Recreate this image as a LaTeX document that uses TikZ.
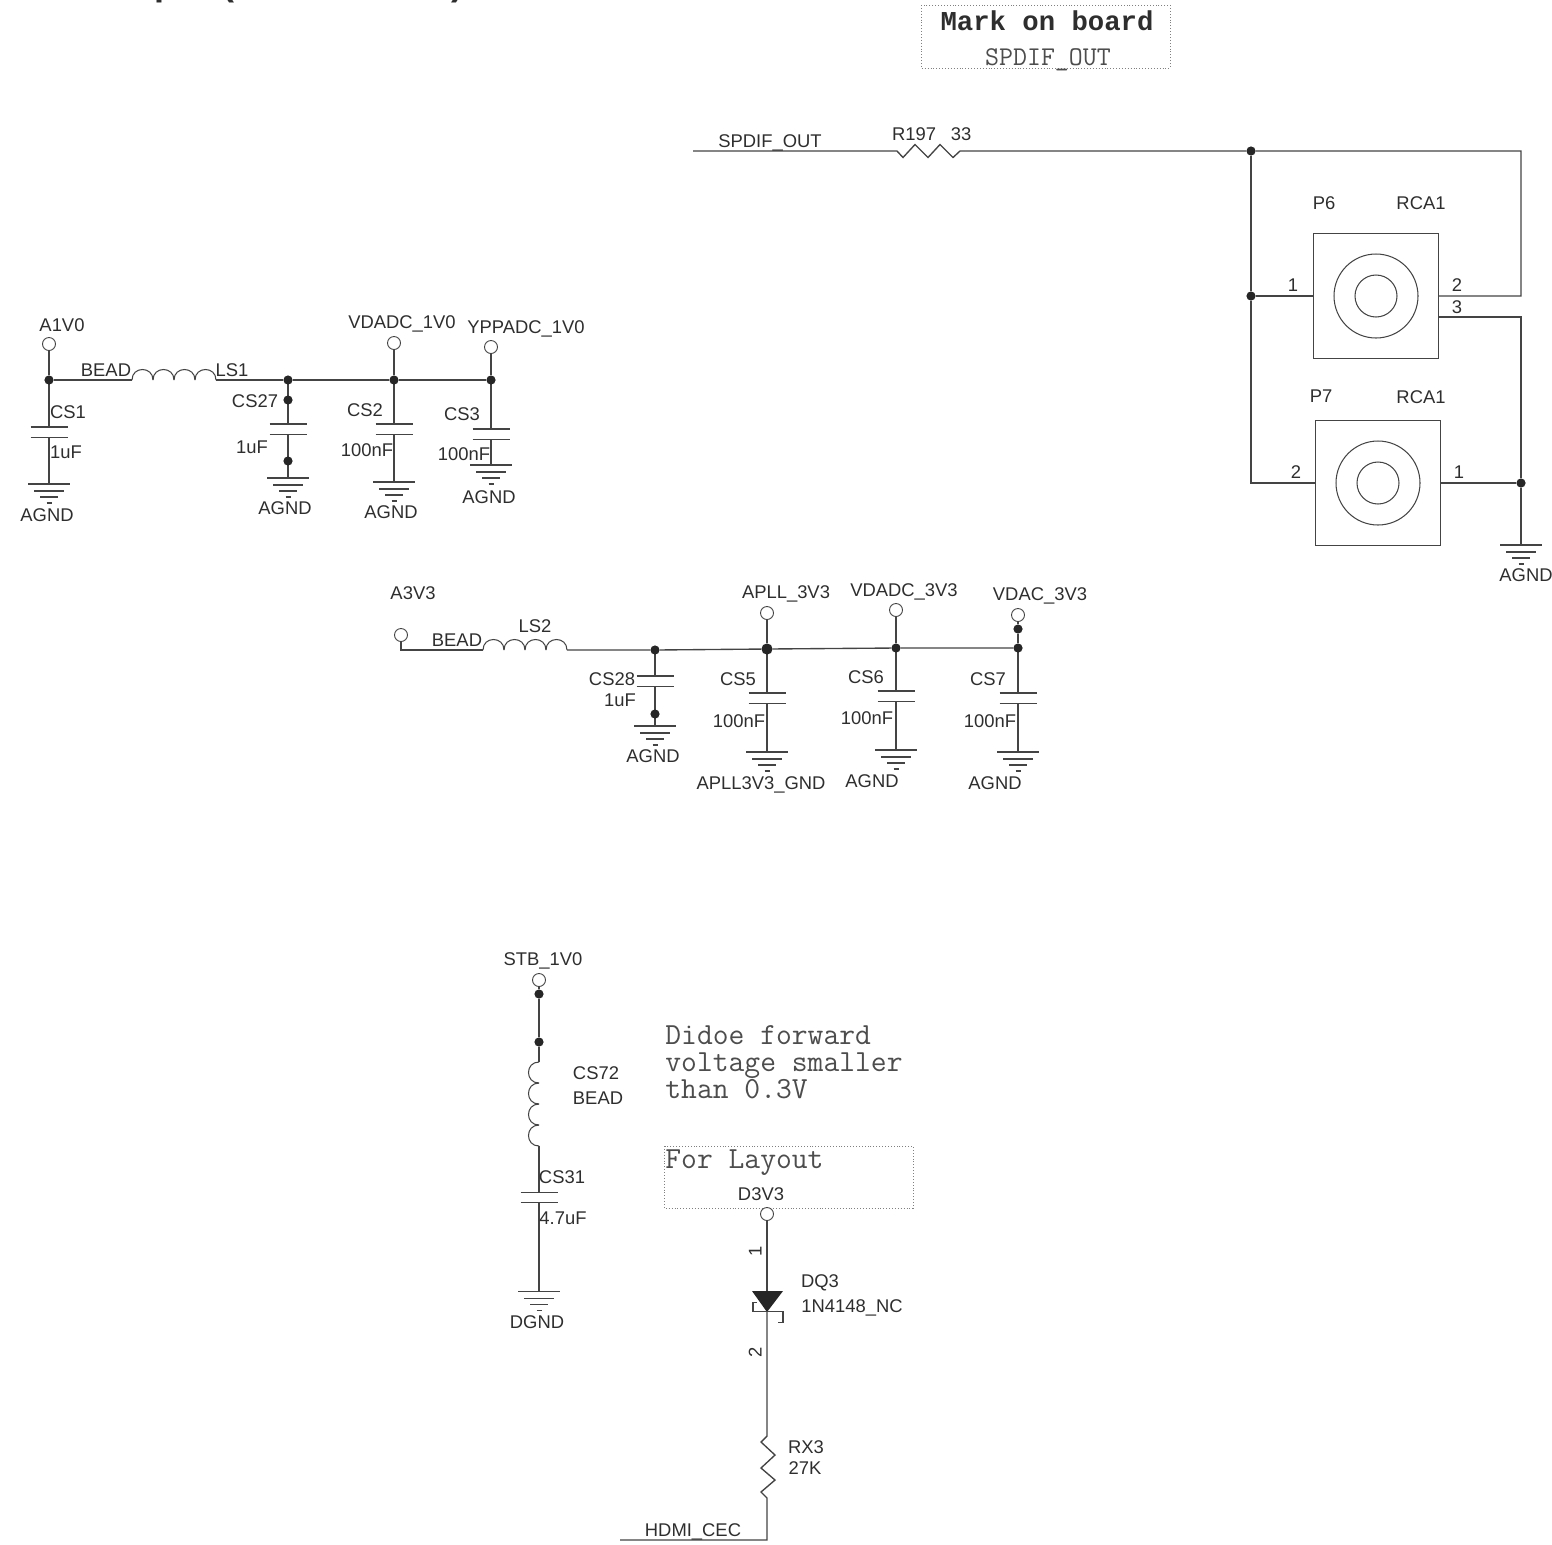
\documentclass[tikz,border=0pt]{standalone}
\usepackage{fontspec}
\setmainfont{Liberation Sans}
\newfontfamily\markfont{Liberation Mono}
\usetikzlibrary{calc}
\definecolor{wirecol}{HTML}{444444}
\definecolor{txtcol}{HTML}{2E2E2E}
\tikzset{
	wire/.style={line width=.68pt, draw=wirecol},
	thinline/.style={line width=.52pt, draw=wirecol},
	lbl/.style={inner sep=0pt, text height=6.6pt, text depth=0pt, text=txtcol, font=\fontsize{9.2}{11}\selectfont},
	monotxt/.style={inner sep=0pt, text=txtcol!85!white, font=\fontsize{15.35}{13.5}\selectfont\ttfamily},
	markbox/.style={line width=.45pt, draw=gray, densely dotted},
	jdot/.style={circle, fill=black!85, draw=none, inner sep=0pt, minimum size=4.6pt},
	testpt/.style={circle, draw=wirecol, fill=white, line width=.45pt, inner sep=0pt, minimum size=6.5pt},
	rcabox/.style={rectangle, draw=wirecol, line width=.52pt, inner sep=0pt, minimum size=62.5pt},
	headtxt/.style={inner sep=0pt, anchor=base, text=txtcol, font=\fontsize{18}{20}\selectfont\bfseries},
	pics/gndsym/.style={code={
		\draw[thinline] (-21,0) -- (21,0) (-15,7) -- (15,7) (-9,13) -- (9,13) (-2.5,19) -- (2.5,19);
	}}
}
\begin{document}
\begin{tikzpicture}[x=.5pt, y=-.5pt]
		\path[use as bounding box, clip] (0,0) rectangle (1552,1544);
		
		% Kopfzeile (abgeschnitten)
		\node[headtxt] (headp) at (165,-4.5) {p};
		\node[headtxt] (headl) at (228,-4.5) {(};
		\node[headtxt] (headr) at (457,-4.5) {)};
		
		% Kondensatoren mit Masse
		\foreach \n/\x/\t/\p/\g in {cs1/49/380/427/484, cs27/288/380/424/478, cs2/394/380/424/482, cs3/491/380/429/465, cs28/655/650/676/726, cs5/767/649/693/752, cs6/896/648/691/750, cs7/1018/648/693/752, cs31/539/1146/1192/1291}
		{
			\coordinate (\n-top) at (\x,\t);
			\coordinate (\n-pa) at (\x,\p);
			\coordinate (\n-pb) at (\x,{\p+10.5});
			\coordinate (\n-gnd) at (\x,\g);
			\draw[wire] (\n-top) -- (\n-pa) (\n-pb) -- (\n-gnd);
			\draw[thinline] ($(\n-pa)+(-18.5,0)$) -- ($(\n-pa)+(18.5,0)$);
			\draw[thinline] ($(\n-pb)+(-18.5,0)$) -- ($(\n-pb)+(18.5,0)$);
			\pic at (\n-gnd) {gndsym};
		}
		
		% A1V0
		\node[testpt] (pa1v0) at (49,344) {};
		\node[jdot] (ja1) at (49,380) {};
		\node[jdot] (ja2) at (288,380) {};
		\node[jdot] (ja3) at (394,380) {};
		\node[jdot] (ja4) at (491,380) {};
		\node[jdot] (ja5) at (288,400) {};
		\node[jdot] (ja6) at (288,461) {};
		\node[testpt] (pvdadc) at (394,343) {};
		\node[testpt] (pyppadc) at (491,347) {};
		\coordinate (ls1a) at (132,380);
		\coordinate (ls1b) at (216,380);
		\draw[wire] (pa1v0) -- (ja1) -- (ls1a);
		\foreach \i in {0,1,2,3}
		\draw[thinline] ({132+21*\i},380) .. controls +(0,-14) and +(0,-14) .. ({153+21*\i},380);
		\draw[wire] (ls1b) -- (ja2) -- (ja3) -- (ja4);
		\draw[wire] (pvdadc) -- (ja3);
		\draw[wire] (pyppadc) -- (ja4);
		
		\node[lbl] (la1v0) at (62,325) {A1V0};
		\node[lbl] (lvdadc) at (402,322) {VDADC\_1V0};
		\node[lbl] (lyppadc) at (526,327) {YPPADC\_1V0};
		\node[lbl] (lbead1) at (106,370) {BEAD};
		\node[lbl] (lls1) at (232,370) {LS1};
		\node[lbl] (lcs1) at (68,412) {CS1};
		\node[lbl] (lcs1v) at (66,452) {1uF};
		\node[lbl] (lagnd1) at (47,515) {AGND};
		\node[lbl] (lcs27) at (255,401) {CS27};
		\node[lbl] (lcs27v) at (252,447) {1uF};
		\node[lbl] (lagnd2) at (285,508) {AGND};
		\node[lbl] (lcs2) at (365,410) {CS2};
		\node[lbl] (lcs2v) at (367,450) {100nF};
		\node[lbl] (lagnd3) at (391,512) {AGND};
		\node[lbl] (lcs3) at (462,414) {CS3};
		\node[lbl] (lcs3v) at (464,454) {100nF};
		\node[lbl] (lagnd4) at (489,497) {AGND};
		
		% A3V3
		\node[testpt] (pa3v3) at (401,635) {};
		\coordinate (ka) at (401,650);
		\coordinate (ls2a) at (483,650);
		\coordinate (ls2b) at (567,650);
		\node[jdot] (jb1) at (655,650) {};
		\node[jdot, minimum size=5.6pt] (jb2) at (767,649) {};
		\node[jdot] (jb3) at (896,648) {};
		\node[jdot] (jb4) at (1018,648) {};
		\node[jdot] (jb5) at (655,714) {};
		\node[jdot] (jb6) at (1018,629) {};
		\node[testpt] (papll) at (767,613) {};
		\node[testpt] (pvdadcb) at (896,610) {};
		\node[testpt] (pvdac) at (1018,615) {};
		\draw[wire] (pa3v3) -- (ka) -- (ls2a);
		\foreach \i in {0,1,2,3}
		\draw[thinline] ({483+21*\i},650) .. controls +(0,-14) and +(0,-14) .. ({504+21*\i},650);
		\draw[wire] (ls2b) -- (jb1) -- (jb2) -- (jb3) -- (jb4);
		\draw[wire] (papll) -- (jb2);
		\draw[wire] (pvdadcb) -- (jb3);
		\draw[wire] (pvdac) -- (jb6) -- (jb4);
		
		\node[lbl] (la3v3) at (413,593) {A3V3};
		\node[lbl] (lbead2) at (457,640) {BEAD};
		\node[lbl] (lls2) at (535,626) {LS2};
		\node[lbl] (lcs28) at (612,679) {CS28};
		\node[lbl] (lcs28v) at (620,700) {1uF};
		\node[lbl] (lagnd5) at (653,756) {AGND};
		\node[lbl] (lapll) at (786,592) {APLL\_3V3};
		\node[lbl] (lcs5) at (738,679) {CS5};
		\node[lbl] (lcs5v) at (739,721) {100nF};
		\node[lbl] (lapllg) at (761,783) {APLL3V3\_GND};
		\node[lbl] (lvdadcb) at (904,590) {VDADC\_3V3};
		\node[lbl] (lcs6) at (866,677) {CS6};
		\node[lbl] (lcs6v) at (867,718) {100nF};
		\node[lbl] (lagnd6) at (872,781) {AGND};
		\node[lbl] (lvdac) at (1040,594) {VDAC\_3V3};
		\node[lbl] (lcs7) at (988,679) {CS7};
		\node[lbl] (lcs7v) at (990,721) {100nF};
		\node[lbl] (lagnd7) at (995,783) {AGND};
		
		% Mark on board
		\draw[markbox] (921,5) rectangle (1170,68);
		\node[monotxt, text=txtcol, font=\fontsize{13.65}{15}\selectfont\markfont\bfseries] (lmark) at (1047,21) {Mark on board};
		\node[monotxt, font=\fontsize{13.55}{15}\selectfont\ttfamily] (lmarkb) at (1048,60) {SPDIF\_OUT};
		
		% SPDIF und RCA
		\coordinate (spd) at (693,151);
		\coordinate (r197a) at (897,151);
		\coordinate (r197b) at (960,151);
		\node[jdot] (jc1) at (1251,151) {};
		\node[jdot] (jc2) at (1251,296) {};
		\node[jdot] (jc3) at (1521,483) {};
		\coordinate (kb) at (1521,151);
		\coordinate (kc) at (1521,296);
		\coordinate (kd) at (1521,317);
		\coordinate (ke) at (1251,483);
		\coordinate (kf) at (1521,545);
		\node[rcabox] (p6) at (1376,296) {};
		\node[rcabox] (p7) at (1378,483) {};
		\coordinate (p6c) at (p6.east |- kd);
		\draw[thinline] (p6) circle (42);
		\draw[thinline] (p6) circle (21);
		\draw[thinline] (p7) circle (42);
		\draw[thinline] (p7) circle (21);
		\draw[wire] (spd) -- (r197a) -- (903,157.5) -- (915,144.5) -- (928,157.5) -- (940,144.5) -- (953,157.5) -- (r197b) -- (jc1) -- (kb) -- (kc) -- (p6.east);
		\draw[wire] (jc1) -- (jc2) -- (ke) -- (p7.west);
		\draw[wire] (jc2) -- (p6.west);
		\draw[wire] (p6c) -- (kd) -- (jc3) -- (kf);
		\draw[wire] (p7.east) -- (jc3);
		\pic at (kf) {gndsym};
		
		\node[lbl] (lspd) at (770,141) {SPDIF\_OUT};
		\node[lbl] (lr197) at (914,134) {R197};
		\node[lbl] (lr197v) at (961,134) {33};
		\node[lbl] (lp6) at (1324,203) {P6};
		\node[lbl] (lrca1) at (1421,203) {RCA1};
		\node[lbl] (lp7) at (1321,396) {P7};
		\node[lbl] (lrca2) at (1421,397) {RCA1};
		\node[lbl] (lp61) at (1293,285) {1};
		\node[lbl] (lp62) at (1457,285) {2};
		\node[lbl] (lp63) at (1457,307) {3};
		\node[lbl] (lp72) at (1296,472) {2};
		\node[lbl] (lp71) at (1459,472) {1};
		\node[lbl] (lagnd8) at (1526,575) {AGND};
		
		% STB_1V0
		\node[testpt] (pstb) at (539,980) {};
		\node[jdot] (jd1) at (539,994) {};
		\node[jdot] (jd2) at (539,1042) {};
		\coordinate (cs72a) at (539,1062);
		\draw[wire] (pstb) -- (jd1) -- (jd2) -- (cs72a);
		\foreach \i in {0,1,2,3}
		\draw[thinline] (539,{1062+21*\i}) .. controls +(-14,0) and +(-14,0) .. (539,{1083+21*\i});
		
		\node[lbl] (lstb) at (543,959) {STB\_1V0};
		\node[lbl] (lcs72) at (596,1073) {CS72};
		\node[lbl] (lcs72v) at (598,1098) {BEAD};
		\node[lbl] (lcs31) at (562,1177) {CS31};
		\node[lbl] (lcs31v) at (563,1218) {4.7uF};
		\node[lbl] (ldgnd) at (537,1322) {DGND};
		
		% Hinweise
		\node[monotxt, anchor=west, align=left] (lnote) at (665,1062) {Didoe forward\\voltage smaller\\than 0.3V};
		\draw[markbox] (664,1146) rectangle (913,1208);
		\node[monotxt, anchor=west] (lfor) at (665,1163) {For Layout};
		
		% D3V3
		\node[testpt] (pd3v3) at (767,1214) {};
		\coordinate (dq3a) at (767,1291);
		\coordinate (dq3k) at (767,1312);
		\coordinate (rx3a) at (767,1436);
		\coordinate (rx3b) at (767,1498);
		\coordinate (kg) at (767,1540);
		\coordinate (hdmi) at (620,1540);
		\draw[wire] (pd3v3) -- (dq3a);
		\fill[black!85] (752,1291) -- (783,1291) -- (dq3k) -- cycle;
		\draw[thinline] (757,1302) -- (753,1302) -- (753,1311) -- (783,1311) -- (783,1322) -- (778,1322);
		\draw[wire] (dq3k) -- (rx3a) -- (761,1442) -- (775,1455) -- (761,1468) -- (775,1480) -- (761,1492) -- (rx3b) -- (kg) -- (hdmi);
		
		\node[lbl] (ld3v3) at (761,1194) {D3V3};
		\node[lbl, rotate=90] (ldq1) at (755,1251) {1};
		\node[lbl, rotate=90] (ldq2) at (755,1352) {2};
		\node[lbl] (ldq3) at (820,1281) {DQ3};
		\node[lbl] (ldq3v) at (852,1306) {1N4148\_NC};
		\node[lbl] (lrx3) at (806,1447) {RX3};
		\node[lbl] (lrx3v) at (805,1468) {27K};
		\node[lbl] (lhdmi) at (693,1530) {HDMI\_CEC};
	\end{tikzpicture}
\end{document}
